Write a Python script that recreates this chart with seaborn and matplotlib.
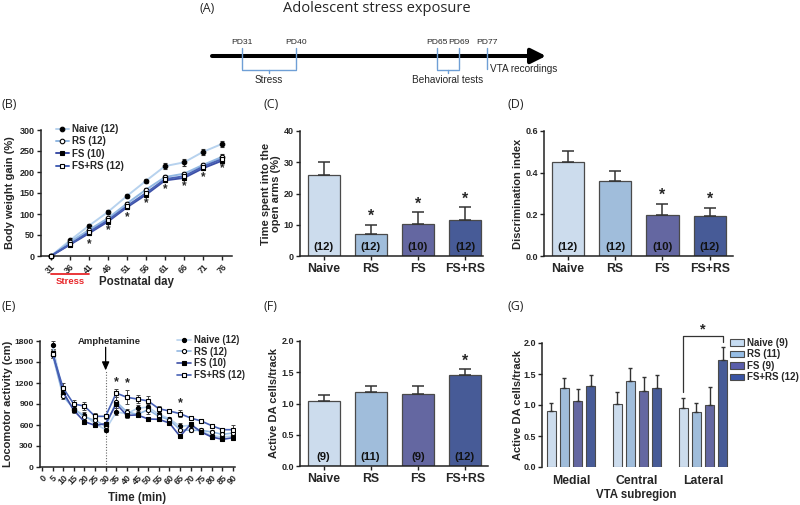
import numpy as np
import pandas as pd
import matplotlib
matplotlib.use("Agg")
import matplotlib.pyplot as plt
import matplotlib.transforms as mtransforms
from matplotlib.lines import Line2D
from matplotlib.patches import Patch
import seaborn as sns

# ---------------- data ----------------
groups = ["Naive", "RS", "FS", "FS+RS"]

# (B) body weight gain
days = [31, 36, 41, 46, 51, 56, 61, 66, 71, 76]
bw_naive = [0, 37, 72, 105, 143, 179, 214, 223, 248, 267]
bw_rs = [0, 33, 62, 90, 125, 158, 188, 196, 217, 236]
bw_fs = [0, 27, 54, 82, 116, 146, 180, 186, 209, 227]
bw_fsrs = [0, 28, 57, 85, 119, 150, 183, 190, 213, 231]
bw_sem_naive = [2, 3, 4, 4, 4, 5, 7, 9, 7, 7]
bw_sem_rs = [2, 3, 3, 4, 4, 4, 5, 5, 5, 6]
bw_sem_fs = [2, 3, 3, 3, 4, 4, 4, 5, 5, 5]
bw_sem_fsrs = [2, 3, 3, 4, 4, 4, 5, 5, 5, 6]
bw_star_days = [41, 46, 51, 56, 61, 66, 71, 76]
bw_star_y = [29, 61, 93, 125, 158, 166, 187, 208]
bw_legend = ["Naive (12)", "RS (12)", "FS (10)", "FS+RS (12)"]

# (C) elevated plus maze
epm_mean = [25.8, 7.1, 10.2, 11.6]
epm_sem = [4.3, 2.9, 3.8, 4.0]
epm_n = ["(12)", "(12)", "(10)", "(12)"]
epm_star = [False, True, True, True]

# (D) discrimination index
di_mean = [0.453, 0.360, 0.198, 0.190]
di_sem = [0.052, 0.048, 0.052, 0.042]
di_n = ["(12)", "(12)", "(10)", "(12)"]
di_star = [False, False, True, True]

# (E) locomotor activity
minutes = [5, 10, 15, 20, 25, 30, 35, 40, 45, 50, 55, 60, 65, 70, 75, 80, 85, 90]
lo_naive = [1738, 1048, 819, 743, 619, 533, 786, 762, 838, 857, 752, 690, 581, 595, 514, 448, 428, 443]
lo_rs = [1605, 1010, 833, 714, 667, 581, 933, 786, 752, 819, 724, 676, 533, 524, 524, 500, 467, 486]
lo_fs = [1633, 1071, 810, 648, 595, 619, 900, 738, 743, 686, 681, 629, 438, 610, 500, 428, 395, 419]
lo_fsrs = [1619, 1128, 900, 871, 724, 724, 1057, 995, 971, 943, 833, 800, 762, 700, 657, 590, 533, 533]
lo_sem_naive = [60, 50, 40, 40, 35, 30, 50, 40, 45, 50, 35, 30, 45, 35, 30, 25, 25, 25]
lo_sem_rs = [50, 45, 40, 40, 35, 30, 60, 40, 40, 60, 35, 30, 40, 30, 30, 25, 25, 30]
lo_sem_fs = [50, 50, 35, 35, 30, 30, 50, 35, 35, 30, 30, 30, 30, 30, 25, 25, 20, 25]
lo_sem_fsrs = [60, 70, 55, 55, 50, 40, 60, 100, 60, 70, 40, 35, 50, 35, 30, 30, 30, 60]
lo_star_min = [35, 40, 65]
lo_star_y = [1214, 1200, 905]
lo_legend = ["Naive (12)", "RS (12)", "FS (10)", "FS+RS (12)"]

# (F) active DA cells
da_mean = [1.04, 1.18, 1.15, 1.45]
da_sem = [0.10, 0.10, 0.13, 0.10]
da_n = ["(9)", "(11)", "(9)", "(12)"]
da_star = [False, False, False, True]

# (G) VTA subregions
regions = ["Medial", "Central", "Lateral"]
vta_naive = [0.90, 1.02, 0.95]
vta_rs = [1.27, 1.38, 0.88]
vta_fs = [1.06, 1.22, 1.00]
vta_fsrs = [1.30, 1.27, 1.73]
vta_sem_naive = [0.14, 0.19, 0.17]
vta_sem_rs = [0.16, 0.22, 0.15]
vta_sem_fs = [0.20, 0.23, 0.29]
vta_sem_fsrs = [0.18, 0.22, 0.21]
vta_legend = ["Naive (9)", "RS (11)", "FS (9)", "FS+RS (12)"]

# (A) timeline
tl_labels = ["PD31", "PD40", "PD65", "PD69", "PD77"]

# ---------------- style ----------------
sns.set_theme(style="ticks")
plt.rcParams["font.family"] = ["Liberation Sans", "DejaVu Sans"]
plt.rcParams["font.weight"] = "bold"
plt.rcParams["axes.labelweight"] = "bold"

bar_colors = ["#c6dcf2", "#96bde5", "#5a5eab", "#3a54a4"]
line_colors = ["#b7d2ee", "#92b8e2", "#3d4fa6", "#4862b6"]
markers = ["o", "o", "s", "s"]
mfaces = ["black", "white", "black", "white"]
EDGE = "#4a4a4a"
AXC = "#222222"
LAB = 8
TICK = 6.5

W, H = 800, 505
fig = plt.figure(figsize=(W / 100, H / 100), dpi=100)


def px_axes(l, t, r, b):
    return fig.add_axes([l / W, 1 - b / H, (r - l) / W, (b - t) / H])


def style(ax, tick=TICK):
    sns.despine(ax=ax)
    for s in ["left", "bottom"]:
        ax.spines[s].set_linewidth(1.1)
        ax.spines[s].set_color(AXC)
    ax.tick_params(width=1, length=3, color=AXC, labelsize=tick, pad=1.5)
    ax.set_facecolor("none")


def up_err(ax, x, y, e, cap, lw=1.1):
    ax.errorbar(x, y, yerr=[np.zeros(len(e)), e], fmt="none", ecolor="#333333",
                elinewidth=lw, capsize=cap, capthick=lw, zorder=3)


# ---------------- (A) timeline ----------------
axA = fig.add_axes([0, 0, 1, 1])
axA.set_xlim(0, W)
axA.set_ylim(H, 0)
axA.axis("off")
tl_x = [242, 296, 437, 459, 487]
tl_col = "#6f9fd6"
axA.annotate("", xy=(546, 56), xytext=(212, 56),
             arrowprops=dict(arrowstyle="-|>,head_length=0.9,head_width=0.45",
                             lw=2.9, color="black", mutation_scale=10, shrinkA=0, shrinkB=0))
for x, lab in zip(tl_x, tl_labels):
    axA.plot([x, x], [48, 69], color=tl_col, lw=1.0, zorder=5)
    axA.text(x, 43, lab, ha="center", va="center", fontsize=6.1, fontweight="normal")
for a, b, lab in [(242, 296, "Stress"), (437, 459, "Behavioral tests")]:
    axA.plot([a, b], [70, 70], color=tl_col, lw=1.0)
    axA.plot([(a + b) / 2] * 2, [70, 72.5], color=tl_col, lw=1.0)
    axA.text((a + b) / 2, 80, lab, ha="center", va="center", fontsize=7.2, fontweight="normal")
axA.text(490, 69, "VTA recordings", ha="left", va="center", fontsize=7.2, fontweight="normal")
axA.text(377, 9, "Adolescent stress exposure", ha="center", va="center", fontsize=10.5,
         fontweight="normal", family=["Open Sans", "DejaVu Sans"])
for x, y, lab in [(200, 9, "(A)"), (2, 105, "(B)"), (263, 105, "(C)"), (508, 105, "(D)"),
                  (2, 307, "(E)"), (263, 307, "(F)"), (508, 307, "(G)")]:
    axA.text(x, y, lab, ha="left", va="center", fontsize=9, fontweight="normal",
             family=["Open Sans", "DejaVu Sans"])

# ---------------- (B) body weight ----------------
axB = px_axes(41, 130, 232, 256)
bw_series = [bw_naive, bw_rs, bw_fs, bw_fsrs]
bw_sems = [bw_sem_naive, bw_sem_rs, bw_sem_fs, bw_sem_fsrs]
for i, (vals, sem) in enumerate(zip(bw_series, bw_sems)):
    axB.errorbar(days, vals, yerr=sem, fmt="none", ecolor="#333333", elinewidth=0.8,
                 capsize=1.5, capthick=0.8, zorder=2)
    sns.lineplot(x=days, y=vals, ax=axB, color=line_colors[i], lw=1.4, marker=markers[i],
                 markersize=3.3, markerfacecolor=mfaces[i], markeredgecolor="black",
                 markeredgewidth=0.8, zorder=3 + i, clip_on=False)
for d, y in zip(bw_star_days, bw_star_y):
    axB.text(d, y, "*", ha="center", va="center", fontsize=8.5, fontweight="bold")
axB.set_xlim(28.4, 78.6)
axB.set_ylim(0, 300)
axB.set_yticks(range(0, 301, 50))
axB.set_xticks(days)
style(axB)
axB.set_xticklabels([str(d) for d in days], rotation=45, ha="right", rotation_mode="anchor",
                    fontsize=6.2)
axB.set_ylabel("Body weight gain (%)", fontsize=LAB)
axB.yaxis.set_label_coords(-0.136, 0.5)
axB.set_xlabel("Postnatal day", fontsize=LAB + 0.3)
axB.xaxis.label.set_va("center")
axB.xaxis.set_label_coords(0.5, -0.205)
trB = mtransforms.blended_transform_factory(axB.transData, axB.transAxes)
axB.plot([31, 41], [-0.14, -0.14], color="#e8262a", lw=1.3, transform=trB, clip_on=False)
axB.text(36, -0.205, "Stress", color="#e8262a", ha="center", va="center", fontsize=6.8,
         transform=trB)
hB = [Line2D([], [], color=line_colors[i], lw=1.4, marker=markers[i], ms=3.3,
             mfc=mfaces[i], mec="black", mew=0.8) for i in range(4)]
fig.legend(hB, bw_legend, loc="upper left", bbox_to_anchor=(56 / W, 1 - 124 / H),
           frameon=False, fontsize=7, handlelength=1.3, handletextpad=0.3,
           labelspacing=0.25, borderpad=0, borderaxespad=0)


# ---------------- bar panels C, D, F ----------------
def bar_panel(box, means, sems, ns, stars, ylim, yticks, ylabel, lab_x, star_off, xlim_r):
    ax = px_axes(*box)
    df = pd.DataFrame({"group": groups, "value": means})
    sns.barplot(data=df, x="group", y="value", hue="group", order=groups, hue_order=groups,
                palette=bar_colors, width=0.68, edgecolor=EDGE, linewidth=0.9,
                errorbar=None, dodge=False, legend=False, ax=ax, zorder=2)
    up_err(ax, range(4), means, sems, cap=4)
    for i in range(4):
        if stars[i]:
            ax.text(i, means[i] + sems[i] + star_off, "*", ha="center", va="center",
                    fontsize=11.5, fontweight="bold")
        ax.text(i, 0.075, ns[i], ha="center", va="center", fontsize=8.2, color="#111111",
                transform=mtransforms.blended_transform_factory(ax.transData, ax.transAxes))
    ax.set_ylim(*ylim)
    ax.set_yticks(yticks)
    ax.set_xlim(-0.5, xlim_r)
    style(ax)
    ax.tick_params(axis="x", labelsize=8.8, pad=2)
    ax.set_xlabel("")
    ax.set_ylabel(ylabel, fontsize=LAB, linespacing=1.0)
    ax.yaxis.set_label_coords(lab_x, 0.5)
    return ax


axC = bar_panel((300, 131, 483, 256), epm_mean, epm_sem, epm_n, epm_star, (0, 40),
                [0, 10, 20, 30, 40], "Time spent into the\nopen arms (%)", -0.104, 2.6, 3.38)
axD = bar_panel((544, 131, 733, 256), di_mean, di_sem, di_n, di_star, (0, 0.6),
                [0.0, 0.2, 0.4, 0.6], "Discrimination index", -0.111, 0.04, 3.49)
axF = bar_panel((300, 341, 488, 466), da_mean, da_sem, da_n, da_star, (0, 2.0),
                [0.0, 0.5, 1.0, 1.5, 2.0], "Active DA cells/track", -0.112, 0.13, 3.49)
axD.set_yticklabels(["0.0", "0.2", "0.4", "0.6"])
axF.set_yticklabels(["0.0", "0.5", "1.0", "1.5", "2.0"])

# ---------------- (E) locomotor ----------------
axE = px_axes(40, 341, 235, 467)
lo_series = [lo_naive, lo_rs, lo_fs, lo_fsrs]
lo_sems = [lo_sem_naive, lo_sem_rs, lo_sem_fs, lo_sem_fsrs]
axE.plot([30, 30], [0, 1390], color="#666666", lw=0.8, ls=(0, (1, 1.5)), zorder=1)
for i, (vals, sem) in enumerate(zip(lo_series, lo_sems)):
    axE.errorbar(minutes, vals, yerr=sem, fmt="none", ecolor="#444444", elinewidth=0.7,
                 capsize=1.3, capthick=0.7, zorder=2)
    sns.lineplot(x=minutes, y=vals, ax=axE, color=line_colors[i], lw=1.2, marker=markers[i],
                 markersize=3.0, markerfacecolor=mfaces[i], markeredgecolor="black",
                 markeredgewidth=0.8, zorder=3 + i)
for m, y in zip(lo_star_min, lo_star_y):
    axE.text(m, y, "*", ha="center", va="center", fontsize=9, fontweight="bold")
axE.annotate("", xy=(30, 1380), xytext=(30, 1710),
             arrowprops=dict(arrowstyle="-|>,head_length=0.5,head_width=0.22", lw=0.9,
                             color="black", mutation_scale=10, shrinkA=0, shrinkB=0))
axE.text(31.5, 1790, "Amphetamine", ha="center", va="center", fontsize=6.8)
axE.set_xlim(-0.9, 90.9)
axE.set_ylim(0, 1800)
axE.set_yticks(range(0, 1801, 300))
axE.set_xticks(range(0, 91, 5))
style(axE, tick=6.1)
axE.set_xticklabels([str(v) for v in range(0, 91, 5)], rotation=45, ha="right",
                    rotation_mode="anchor", fontsize=6.4)
axE.set_ylabel("Locomotor activity (cm)", fontsize=LAB)
axE.yaxis.set_label_coords(-0.14, 0.5)
axE.set_xlabel("Time (min)", fontsize=LAB + 0.3)
axE.xaxis.label.set_va("center")
axE.xaxis.set_label_coords(0.5, -0.245)
hE = [Line2D([], [], color=line_colors[i], lw=1.2, marker=markers[i], ms=3.0,
             mfc=mfaces[i], mec="black", mew=0.8) for i in range(4)]
fig.legend(hE, lo_legend, loc="upper left", bbox_to_anchor=(177 / W, 1 - 335 / H),
           frameon=False, fontsize=6.9, handlelength=1.5, handletextpad=0.3,
           labelspacing=0.18, borderpad=0, borderaxespad=0)

# ---------------- (G) VTA subregions ----------------
axG = px_axes(542, 343, 730, 467)
vta_series = [vta_naive, vta_rs, vta_fs, vta_fsrs]
vta_sems = [vta_sem_naive, vta_sem_rs, vta_sem_fs, vta_sem_fsrs]
dfG = pd.DataFrame({
    "region": regions * 4,
    "group": np.repeat(groups, 3),
    "value": np.concatenate(vta_series),
})
sns.barplot(data=dfG, x="region", y="value", hue="group", order=regions, hue_order=groups,
            palette=bar_colors, width=0.8, gap=0.32, edgecolor=EDGE, linewidth=0.8,
            errorbar=None, legend=False, ax=axG, zorder=2)
for cont, vals, sem in zip(axG.containers, vta_series, vta_sems):
    xs = [b.get_x() + b.get_width() / 2 for b in cont]
    up_err(axG, xs, vals, sem, cap=1.6, lw=1.0)
lat_n = axG.containers[0][2]
lat_f = axG.containers[3][2]
xa = lat_n.get_x() + lat_n.get_width() / 2
xb = lat_f.get_x() + lat_f.get_width() / 2
y_top = 2.12
axG.plot([xa, xa, xb, xb], [vta_naive[2] + vta_sem_naive[2] + 0.09, y_top, y_top,
                            vta_fsrs[2] + vta_sem_fsrs[2] + 0.08],
         color="#333333", lw=0.9, clip_on=False)
axG.text((xa + xb) / 2, y_top + 0.1, "*", ha="center", va="center", fontsize=10.5)
axG.set_ylim(0, 2.0)
axG.set_yticks([0.0, 0.5, 1.0, 1.5, 2.0])
axG.set_xlim(-0.44, 2.41)
style(axG)
axG.set_yticklabels(["0.0", "0.5", "1.0", "1.5", "2.0"])
axG.spines["bottom"].set_visible(False)
axG.tick_params(axis="x", length=0, labelsize=8.8, pad=6)
axG.set_xlabel("VTA subregion", fontsize=LAB + 0.3)
axG.xaxis.label.set_va("center")
axG.xaxis.set_label_coords(0.5, -0.225)
axG.set_ylabel("Active DA cells/track", fontsize=LAB)
axG.yaxis.set_label_coords(-0.101, 0.5)
hG = [Patch(facecolor=bar_colors[i], edgecolor=EDGE, linewidth=0.8) for i in range(4)]
fig.legend(hG, vta_legend, loc="upper left", bbox_to_anchor=(730 / W, 1 - 338 / H),
           frameon=False, fontsize=7, handlelength=1.4, handleheight=0.7,
           handletextpad=0.3, labelspacing=0.15, borderpad=0, borderaxespad=0)

fig.savefig("out.png", dpi=100)
